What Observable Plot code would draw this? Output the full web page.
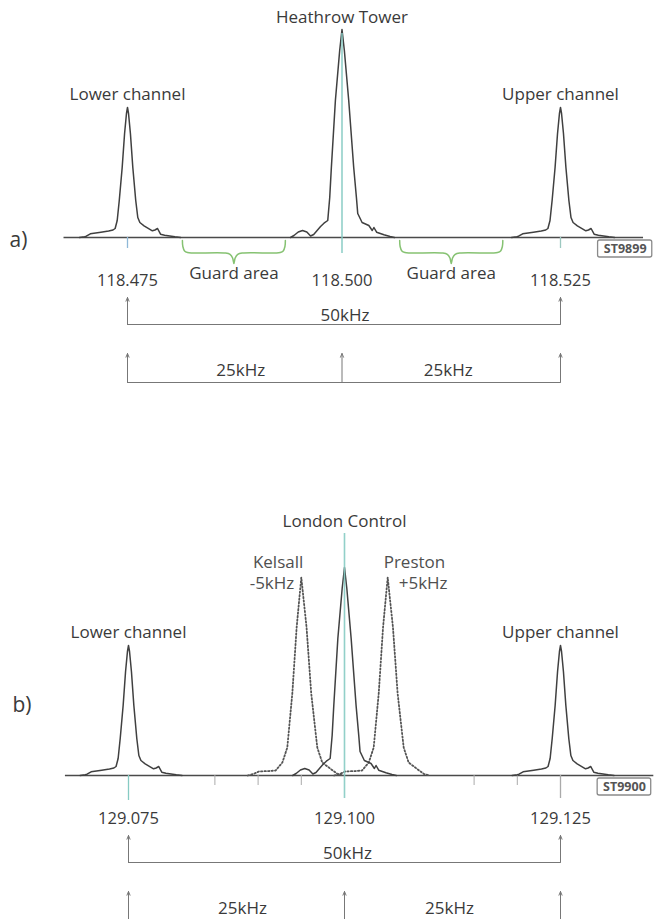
<!DOCTYPE html>
<html><head><meta charset="utf-8">
<script src="https://cdn.jsdelivr.net/npm/d3@7"></script>
<script src="https://cdn.jsdelivr.net/npm/@observablehq/plot@0.6"></script>
<style>body{margin:0;background:#fff;} #chart svg{display:block;}</style>
</head><body><div id="chart"></div>
<script>
// ---------- data ----------
const channelKHz = [-25, 0, 25];
const channelNamesA = ["Lower channel", "Heathrow Tower", "Upper channel"];
const channelNamesB = ["Lower channel", "London Control", "Upper channel"];
const freqLabelsA = ["118.475", "118.500", "118.525"];
const freqLabelsB = ["129.075", "129.100", "129.125"];
const figureCodes = ["ST9899", "ST9900"];
const panelLetters = ["a)", "b)"];
const guardStartKHz = [-18.6, 6.6];
const guardEndKHz = [-6.6, 18.4];
const guardLabels = ["Guard area", "Guard area"];
const offsetStations = ["Kelsall", "Preston"];
const offsetLabels = ["-5kHz", "+5kHz"];
const offsetKHz = [-5, 5];
const span50Label = "50kHz";
const span25Labels = ["25kHz", "25kHz"];
const minorTicksB = [-15, -10, -5, 15, 20];
const baselineA = [-32.4, 34.5];
const baselineB = [-32.3, 35.8];

// peak profiles: offset from channel centre (kHz) and signal level
const sideDx    = [-5.6, -5.0, -4.8, -4.33, -3.1, -2.2, -1.69, -1.44, -1.2, -0.96, -0.62, -0.34, -0.12, 0, 0.12, 0.34, 0.62, 0.96, 1.2, 1.44, 1.93, 2.9, 3.2, 3.5, 3.85, 4.33, 5.53, 6.2];
const sideLevel = [0, 0.8, 1.3, 3.7, 5.3, 6.5, 7.5, 9, 17, 37, 70, 104, 124, 130, 124, 104, 70, 37, 20, 15, 11.7, 6.7, 7.5, 9, 3.3, 2.3, 0.7, 0];
const centreDx    = [-6.0, -5.6, -5.1, -4.6, -4.1, -3.66, -3.3, -2.9, -2.5, -2.1, -1.66, -1.43, -1.24, -0.77, -0.27, 0, 0.27, 0.77, 1.34, 1.65, 1.8, 2.3, 3.07, 3.46, 3.65, 3.96, 4.8, 5.5, 6.0];
const centreLevel = [0, 2, 5.5, 7, 5.5, 1.5, 3, 7, 11, 14.3, 17, 40, 70, 137, 187, 208, 187, 137, 70, 40, 24, 15, 12, 7, 10, 5.3, 2.7, 1, 0];
const adjDx    = [-6.2, -5.5, -4.9, -4.35, -3.6, -2.97, -2.19, -1.62, -1.04, -0.54, 0, 0.61, 1.15, 1.85, 2.42, 3.38, 4.16, 4.8];
const adjLevel = [0, 1.7, 4, 4.3, 4.5, 5, 13, 28, 82, 148, 198, 148, 82, 28, 13, 6.7, 1.7, 0];

// ---------- styling ----------
const INK = "#3a3a3a";
const LINE = "#404040";
const TEAL = "#86cbc3";
const GREEN = "#86c272";
const GREY = "#777";
const FONT = "'Open Sans', 'Noto Sans', sans-serif";
const LABEL = 17;

function drawPanel(p) {
  const sideMax = d3.max(sideLevel), centreMax = d3.max(centreLevel), adjMax = d3.max(adjLevel);
  const sidePts = [];
  [0, 2].forEach(i => sideDx.forEach((dx, j) => sidePts.push({peak: i, x: channelKHz[i] + dx, y: sideLevel[j]})));
  const centrePts = centreDx.map((dx, j) => ({x: channelKHz[1] + dx, y: centreLevel[j]}));
  const marks = [];

  // baseline
  marks.push(Plot.ruleY([0], {x1: p.base[0], x2: p.base[1], stroke: "#4a4a4a", strokeWidth: 1.4}));
  // ticks under channels
  marks.push(Plot.ruleX([channelKHz[0]], {y1: 0, y2: p.tickLen[0], stroke: p.tickColors[0], strokeWidth: 1.3}));
  marks.push(Plot.ruleX([channelKHz[2]], {y1: 0, y2: p.tickLen[2], stroke: p.tickColors[2], strokeWidth: 1.3}));
  if (p.minor) marks.push(Plot.ruleX(p.minor, {y1: 0, y2: -10, stroke: "#aaa", strokeWidth: 1}));

  // adjacent offset carriers (dotted)
  if (p.offsets) {
    const adjPts = [];
    offsetKHz.forEach((k, i) => adjDx.forEach((dx, j) => adjPts.push({peak: i, x: k + dx, y: adjLevel[j]})));
    marks.push(Plot.line(adjPts, {x: "x", y: "y", z: "peak", stroke: "#555", strokeWidth: 1.8, strokeDasharray: "1.4,2.1"}));
  }
  // peaks
  marks.push(Plot.line(sidePts, {x: "x", y: "y", z: "peak", stroke: LINE, strokeWidth: 1.5}));
  marks.push(Plot.line(centrePts, {x: "x", y: "y", stroke: LINE, strokeWidth: 1.5}));
  // teal centre line
  marks.push(Plot.ruleX([channelKHz[1]], {y1: p.tealBottom, y2: p.tealTop, stroke: TEAL, strokeWidth: 1.6, strokeOpacity: 0.9}));

  // channel names
  const names = p.names.map((t, i) => ({t, x: channelKHz[i], y: i === 1 ? Math.max(centreMax, p.tealTop) + 12 : sideMax + 13}));
  marks.push(Plot.text(names, {x: "x", y: "y", text: "t", fontSize: LABEL, fill: INK}));
  // frequency labels
  marks.push(Plot.text(p.freqs, {x: (d, i) => channelKHz[i], y: () => -43, text: d => d, fontSize: 16.5, fill: INK}));

  // offset carrier labels (station name above, offset below)
  if (p.offsets) {
    marks.push(Plot.text([offsetStations[0]], {x: () => offsetKHz[0], y: () => adjMax + 15, text: d => d, textAnchor: "end", dx: 2, fontSize: LABEL, fill: "#505050"}));
    marks.push(Plot.text([offsetLabels[0]], {x: () => offsetKHz[0], y: () => adjMax - 6, text: d => d, textAnchor: "end", dx: -7, fontSize: LABEL, fill: "#505050"}));
    marks.push(Plot.text([offsetStations[1]], {x: () => offsetKHz[1], y: () => adjMax + 15, text: d => d, textAnchor: "start", dx: -4, fontSize: LABEL, fill: "#505050"}));
    marks.push(Plot.text([offsetLabels[1]], {x: () => offsetKHz[1], y: () => adjMax - 6, text: d => d, textAnchor: "start", dx: 11, fontSize: LABEL, fill: "#505050"}));
  }

  // guard areas with braces
  if (p.guard) {
    guardStartKHz.forEach((a, i) => {
      const b = guardEndKHz[i], m = (a + b) / 2;
      const pts = [[a, -3], [a + 0.05, -9], [a + 0.25, -13.4], [a + 0.6, -15], [a + 1.2, -15.5], [m - 1.0, -15.5], [m - 0.45, -16.8], [m - 0.15, -20.5], [m, -26],
                   [m + 0.15, -20.5], [m + 0.45, -16.8], [m + 1.0, -15.5], [b - 1.2, -15.5], [b - 0.6, -15], [b - 0.25, -13.4], [b - 0.05, -9], [b, -3]];
      marks.push(Plot.line(pts, {x: d => d[0], y: d => d[1], stroke: GREEN, strokeWidth: 1.5, curve: "catmull-rom"}));
    });
    marks.push(Plot.text(guardLabels, {x: (d, i) => (guardStartKHz[i] + guardEndKHz[i]) / 2, y: () => -36, text: d => d, fontSize: LABEL, fill: INK}));
  }

  // 50 kHz span
  const arrowOpts = {stroke: GREY, strokeWidth: 1, headLength: 6, headAngle: 45};
  marks.push(Plot.arrow([channelKHz[0], channelKHz[2]], {x1: d => d, x2: d => d, y1: () => -87, y2: () => -60, ...arrowOpts}));
  marks.push(Plot.ruleY([-87], {x1: channelKHz[0], x2: channelKHz[2], stroke: GREY, strokeWidth: 1}));
  marks.push(Plot.text([span50Label], {x: () => channelKHz[1], y: () => -78, text: d => d, fontSize: LABEL, fill: INK, dx: 3}));
  // 25 kHz spans
  marks.push(Plot.arrow(channelKHz, {x1: d => d, x2: d => d, y1: () => -145, y2: () => -116, ...arrowOpts}));
  marks.push(Plot.ruleY([-145], {x1: channelKHz[0], x2: channelKHz[2], stroke: GREY, strokeWidth: 1}));
  marks.push(Plot.text([span25Labels[0]], {x: () => (channelKHz[0] + channelKHz[1]) / 2, y: () => -133, text: d => d, fontSize: LABEL, fill: INK, dx: 6}));
  marks.push(Plot.text([span25Labels[1]], {x: () => (channelKHz[1] + channelKHz[2]) / 2, y: () => -133, text: d => d, fontSize: LABEL, fill: INK, dx: -3}));

  // figure code box
  marks.push(Plot.rect([p.code], {x1: () => 29.3, x2: () => 35.5, y1: () => -3, y2: () => -20, fill: "white", stroke: "#8a8a8a", strokeWidth: 1.3, rx: 2}));
  marks.push(Plot.text([p.code], {x: () => 32.4, y: () => -11.5, text: d => d, fontSize: 12.5, fontWeight: "bold", fill: "#555"}));
  // panel letter
  marks.push(Plot.text([p.letter], {frameAnchor: "left", y: () => p.letterY, text: d => d, textAnchor: "start", dx: p.letterDx, fontSize: 21, fill: INK}));

  return Plot.plot({
    width: 654, height: p.height, margin: 0,
    x: {type: "linear", domain: [-25, 0, 25], range: p.xRange, axis: null},
    y: {type: "linear", domain: [p.baseline - p.height, p.baseline], range: [p.height, 0], axis: null},
    style: {fontFamily: FONT, background: "white", overflow: "visible"},
    marks
  });
}

const chart = document.getElementById("chart");
chart.append(drawPanel({
  height: 458, baseline: 237, xRange: [127, 341.5, 560], base: baselineA,
  names: channelNamesA, freqs: freqLabelsA, code: figureCodes[0], letter: panelLetters[0], letterDx: 9, letterY: -3,
  tealTop: 204, tealBottom: -16, tickLen: [-11, 0, -11], tickColors: ["#8fb8d8", TEAL, "#9cc8c0"], guard: true
}));
chart.append(drawPanel({
  height: 461, baseline: 317, xRange: [128, 344, 560], base: baselineB,
  names: channelNamesB, freqs: freqLabelsB, code: figureCodes[1], letter: panelLetters[1], letterDx: 12, letterY: 70,
  tealTop: 242, tealBottom: -23, tickLen: [-25, 0, -23], tickColors: [TEAL, TEAL, "#aaa"], offsets: true, minor: minorTicksB
}));
</script>
</body></html>
